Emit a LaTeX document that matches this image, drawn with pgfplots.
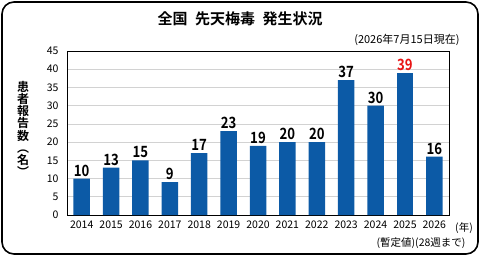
\documentclass[border=0pt]{standalone}
\usepackage{fontspec}
\usepackage{pgfplots}
\pgfplotsset{compat=1.18}
\setmainfont{Noto Sans CJK JP}[BoldFont={Noto Sans CJK JP Bold}]
% condensed face for the bar values
\newfontfamily\valfont{Noto Sans CJK JP Bold}[FakeStretch=0.85]
\definecolor{barblue}{RGB}{12,90,166}
\definecolor{valred}{RGB}{232,20,20}
\begin{document}
\begin{tikzpicture}[x=1pt,y=1pt]
\useasboundingbox (0,0) rectangle (481,257);
% outer rounded frame
\draw[line width=1.6pt, rounded corners=12pt] (2,3) rectangle (478,255);
% titles and notes
\node[font=\bfseries\fontsize{15}{17}\selectfont] at (240,238) {全国\hspace{0.5em}先天梅毒\hspace{0.5em}発生状況};
\node[font=\fontsize{11}{13}\selectfont, anchor=east] at (463,217) {(2026年7月15日現在)};
\node[font=\bfseries\fontsize{12}{12.2}\selectfont, align=center] at (23,128) {患\\者\\報\\告\\数\\︵\\名\\︶};
\node[font=\fontsize{10.5}{12}\selectfont] at (464,29) {(年)};
\node[font=\fontsize{10.5}{12}\selectfont, anchor=east] at (469,14) {(暫定値)(28週まで)};
\begin{axis}[
  at={(67pt,42pt)}, anchor=south west, scale only axis,
  width=382pt, height=164pt,
  xmin=-0.5, xmax=12.5, ymin=0, ymax=45,
  ytick={0,5,...,45},
  xtick={0,...,12},
  xticklabels={2014,2015,2016,2017,2018,2019,2020,2021,2022,2023,2024,2025,2026},
  /pgf/number format/assume math mode=true,
  ticklabel style={font=\fontsize{10.5}{12}\selectfont},
  yticklabel style={xshift=-5pt},
  xticklabel style={yshift=-2pt},
  major tick length=0pt,
  ymajorgrids, grid style={gray!35, line width=0.6pt},
  axis line style={black, line width=0.9pt},
  ybar, bar width=16.5pt, bar shift=0pt,
  nodes near coords,
  every node near coord/.append style={font=\valfont\fontsize{15.5}{17}\selectfont, black, inner sep=2pt},
  clip=false,
]
\addplot[fill=barblue, draw=none] coordinates {
  (0,10) (1,13) (2,15) (3,9) (4,17) (5,23) (6,19) (7,20) (8,20) (9,37) (10,30) (12,16)
};
\addplot[fill=barblue, draw=none, every node near coord/.append style={valred}] coordinates {
  (11,39)
};
\end{axis}
\end{tikzpicture}
\end{document}
